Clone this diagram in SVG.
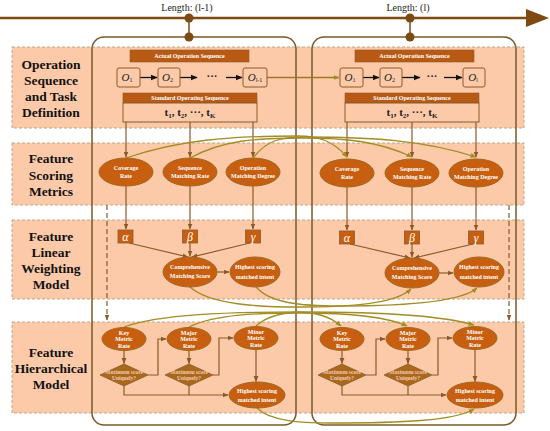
<svg xmlns="http://www.w3.org/2000/svg" width="550" height="431" viewBox="0 0 550 431">
<defs>
<style>
.band{fill:#FCCAA8;stroke:#B9AA8C;stroke-width:1;stroke-dasharray:3 2}
.frame{fill:none;stroke:#7A5A28;stroke-width:1.5}
.ln{fill:none;stroke:#8B5A2B;stroke-width:1.2}
.dash{fill:none;stroke:#8B5A2B;stroke-width:1.2;stroke-dasharray:5 3}
.cv{fill:none;stroke:#A38C24;stroke-width:1.3}
.bk{fill:none;stroke:#111;stroke-width:1.3}
.el{fill:#C85F10;stroke:#9C6A22;stroke-width:1}
.dm{fill:#A8691C;stroke:#8B5A2B;stroke-width:0.8}
.bx{fill:#C85F10;stroke:#8B5A2B;stroke-width:0.8}
.hdr{fill:#B95A14;stroke:#8B5A2B;stroke-width:0.6}
.ob{fill:#FCCAA8;stroke:#8B5A2B;stroke-width:1}
.lab{font-family:"Liberation Serif",serif;font-weight:bold;font-size:13.5px;fill:#111;text-anchor:middle}
.nt{font-family:"Liberation Serif",serif;font-weight:bold;font-size:6px;fill:#fff;text-anchor:middle}
.dt{font-family:"Liberation Serif",serif;font-weight:bold;font-size:5.5px;fill:#F8C8B0;text-anchor:middle}
.gr{font-family:"Liberation Serif",serif;font-style:italic;font-size:12px;fill:#fff;text-anchor:middle}
.ot{font-family:"Liberation Serif",serif;font-style:italic;font-size:11px;fill:#222;text-anchor:middle}
.tt{font-family:"Liberation Serif",serif;font-weight:bold;font-size:11px;fill:#222;text-anchor:middle}
.len{font-family:"Liberation Serif",serif;font-size:10px;fill:#222;text-anchor:middle}
</style>
<marker id="ab" viewBox="0 0 10 10" refX="9" refY="5" markerWidth="6" markerHeight="6" markerUnits="userSpaceOnUse" orient="auto"><path d="M0,1 L10,5 L0,9 z" fill="#8B5A2B"/></marker>
<marker id="ao" viewBox="0 0 10 10" refX="9" refY="5" markerWidth="6" markerHeight="6" markerUnits="userSpaceOnUse" orient="auto"><path d="M0,1 L10,5 L0,9 z" fill="#A38C24"/></marker>
<marker id="ak" viewBox="0 0 10 10" refX="9" refY="5" markerWidth="7" markerHeight="7" markerUnits="userSpaceOnUse" orient="auto"><path d="M0,1 L10,5 L0,9 z" fill="#111"/></marker>
</defs>

<g id="bands">
<rect class="band" x="12" y="47" width="512" height="81"/>
<rect class="band" x="12" y="143" width="512" height="62"/>
<rect class="band" x="12" y="220" width="512" height="79"/>
<rect class="band" x="12" y="322" width="512" height="91"/>
</g>

<g id="band-labels">
<text class="lab" x="51" y="69">Operation</text>
<text class="lab" x="51" y="85">Sequence</text>
<text class="lab" x="51" y="101">and Task</text>
<text class="lab" x="51" y="117">Definition</text>
<text class="lab" x="51" y="163">Feature</text>
<text class="lab" x="51" y="180">Scoring</text>
<text class="lab" x="51" y="196">Metrics</text>
<text class="lab" x="51" y="241">Feature</text>
<text class="lab" x="51" y="257">Linear</text>
<text class="lab" x="51" y="273">Weighting</text>
<text class="lab" x="51" y="289">Model</text>
<text class="lab" x="51" y="357">Feature</text>
<text class="lab" x="51" y="373">Hierarchical</text>
<text class="lab" x="51" y="389">Model</text>
</g>

<g id="timeline">
<line x1="0" y1="18" x2="530" y2="18" stroke="#7D4A12" stroke-width="2.5"/>
<polygon points="526,9 549,18 526,27" fill="#7D4A12"/>
<line x1="189" y1="18" x2="189" y2="37" stroke="#7D4A12" stroke-width="1.5"/>
<line x1="410" y1="18" x2="410" y2="37" stroke="#7D4A12" stroke-width="1.5"/>
<circle cx="189" cy="18" r="4.5" fill="#7D4A12"/>
<circle cx="410" cy="18" r="4.5" fill="#7D4A12"/>
<text class="len" x="187" y="11">Length: (l-1)</text>
<text class="len" x="408" y="11">Length: (l)</text>
</g>

<g id="frames">
<rect class="frame" x="92" y="37" width="204" height="388" rx="12"/>
<rect class="frame" x="312" y="37" width="204" height="388" rx="12"/>
<circle cx="189" cy="37" r="4.5" fill="#7D4A12"/>
<circle cx="410" cy="37" r="4.5" fill="#7D4A12"/>
</g>

<g id="connectors">
<!-- band 1 sequences -->
<path class="bk" d="M140,77.5 H157" marker-end="url(#ak)"/>
<path class="bk" d="M180,77.5 H197" marker-end="url(#ak)"/>
<path class="bk" d="M226,77.5 H242" marker-end="url(#ak)"/>
<path class="bk" d="M363,77.5 H379" marker-end="url(#ak)"/>
<path class="bk" d="M402,77.5 H420" marker-end="url(#ak)"/>
<path class="bk" d="M444,77.5 H462" marker-end="url(#ak)"/>
<path class="cv" style="stroke:#A07828" d="M267,77.5 H339" marker-end="url(#ao)"/>
<!-- band 1 to band 2 -->
<path class="ln" d="M126,122 V157" marker-end="url(#ab)"/>
<path class="ln" d="M190,122 V157" marker-end="url(#ab)"/>
<path class="ln" d="M253,122 V157" marker-end="url(#ab)"/>
<path class="ln" d="M347,122 V157" marker-end="url(#ab)"/>
<path class="ln" d="M412,122 V157" marker-end="url(#ab)"/>
<path class="ln" d="M476,122 V157" marker-end="url(#ab)"/>
<!-- band 2 curves -->
<path class="cv" d="M126,158 C178,140 230,136 298,136 C319,136 333,141 347,157" marker-end="url(#ao)"/>
<path class="cv" d="M190,158 C223,140 256,138 302,138 C345,138 378,141 412,157" marker-end="url(#ao)"/>
<path class="cv" d="M253,158 C267,140 281,137 305,137 C370,137 423,140 476,157" marker-end="url(#ao)"/>
<!-- band 2 to band 3 -->
<path class="ln" d="M126,186 V229" marker-end="url(#ab)"/>
<path class="ln" d="M190,186 V229" marker-end="url(#ab)"/>
<path class="ln" d="M253,186 V229" marker-end="url(#ab)"/>
<path class="ln" d="M347,187 V230" marker-end="url(#ab)"/>
<path class="ln" d="M412,187 V230" marker-end="url(#ab)"/>
<path class="ln" d="M476,187 V230" marker-end="url(#ab)"/>
<path class="ln" d="M129,243 L188,257" marker-end="url(#ab)"/>
<path class="ln" d="M190,243 V256" marker-end="url(#ab)"/>
<path class="ln" d="M250,243 L192,257" marker-end="url(#ab)"/>
<path class="ln" d="M217,272 H229" marker-end="url(#ab)"/>
<path class="ln" d="M350,244 L410,258" marker-end="url(#ab)"/>
<path class="ln" d="M412,244 V257" marker-end="url(#ab)"/>
<path class="ln" d="M473,244 L414,258" marker-end="url(#ab)"/>
<path class="ln" d="M439,273 H453" marker-end="url(#ab)"/>
<!-- dashed -->
<path class="dash" d="M107,205 V320" marker-end="url(#ab)"/>
<path class="dash" d="M509,205 V320" marker-end="url(#ab)"/>
<!-- band 3 curves -->
<path class="cv" d="M190,287 C210,305 260,307 300,307 C350,307 395,304 411,289" marker-end="url(#ao)"/>
<path class="cv" d="M256,287 C270,303 300,306 340,306 C400,306 460,303 477,288" marker-end="url(#ao)"/>
<!-- band 4 curves -->
<path class="cv" d="M124,327 C160,314 230,312 296,312 C315,312 330,316 341,326" marker-end="url(#ao)"/>
<path class="cv" d="M189,327 C215,314 260,313 300,313 C345,313 385,316 407,326" marker-end="url(#ao)"/>
<path class="cv" d="M256,326 C268,315 285,312 304,312 C375,312 440,315 474,325" marker-end="url(#ao)"/>
<path class="cv" d="M257,408 C270,421 300,423 330,423 C400,423 455,421 474,409" marker-end="url(#ao)"/>
<!-- band 4 left -->
<path class="ln" d="M124,350.5 V363.5" marker-end="url(#ab)"/>
<path class="ln" d="M148,375 H158 V339 H166" marker-end="url(#ab)"/>
<path class="ln" d="M189,350.5 V363.5" marker-end="url(#ab)"/>
<path class="ln" d="M213,375 H219 V338 H233" marker-end="url(#ab)"/>
<path class="ln" d="M256,349.5 V381.5" marker-end="url(#ab)"/>
<path class="ln" d="M124,386 V395 H228" marker-end="url(#ab)"/>
<path class="ln" d="M189,386 V395"/>
<!-- band 4 right -->
<path class="ln" d="M342,350.5 V363.5" marker-end="url(#ab)"/>
<path class="ln" d="M366,375 H376 V339 H385" marker-end="url(#ab)"/>
<path class="ln" d="M408,350.5 V363.5" marker-end="url(#ab)"/>
<path class="ln" d="M432,375 H438 V338 H452" marker-end="url(#ab)"/>
<path class="ln" d="M475,349.5 V381.5" marker-end="url(#ab)"/>
<path class="ln" d="M342,386 V395 H446" marker-end="url(#ab)"/>
<path class="ln" d="M408,386 V395"/>
</g>

<!-- band 1 nodes left -->
<g id="actual-left"><rect class="hdr" x="130" y="50" width="119" height="12"/><text class="nt" x="189.5" y="58.2">Actual Operation Sequence</text></g>
<g id="o1-left"><rect class="ob" x="117" y="68" width="23" height="19" rx="2"/><text class="ot" x="127" y="81">O<tspan font-size="6" font-style="normal" dy="1">1</tspan></text></g>
<g id="o2-left"><rect class="ob" x="158" y="68" width="22" height="19" rx="2"/><text class="ot" x="167.5" y="81">O<tspan font-size="6" font-style="normal" dy="1">2</tspan></text></g>
<g id="dots-left"><text class="tt" x="212" y="80">···</text></g>
<g id="ol1-left"><rect class="ob" x="243" y="68" width="24" height="19" rx="2"/><text class="ot" x="255" y="81">O<tspan font-size="6" font-style="normal" dy="1">l-1</tspan></text></g>
<g id="standard-left"><rect class="hdr" x="123" y="93" width="134" height="10"/><text class="nt" x="190" y="100.2">Standard Operating Sequence</text><rect class="ob" x="123" y="103" width="134" height="19"/><text class="tt" x="190" y="116">t<tspan font-size="7" dy="1.5">1</tspan><tspan dy="-1.5">,  t</tspan><tspan font-size="7" dy="1.5">2</tspan><tspan dy="-1.5">,  ···,  t</tspan><tspan font-size="7" dy="1.5">K</tspan></text></g>

<!-- band 1 nodes right -->
<g id="actual-right"><rect class="hdr" x="355" y="50" width="119" height="12"/><text class="nt" x="414.5" y="58.2">Actual Operation Sequence</text></g>
<g id="o1-right"><rect class="ob" x="340" y="68" width="23" height="19" rx="2"/><text class="ot" x="350" y="81">O<tspan font-size="6" font-style="normal" dy="1">1</tspan></text></g>
<g id="o2-right"><rect class="ob" x="380" y="68" width="22" height="19" rx="2"/><text class="ot" x="389.5" y="81">O<tspan font-size="6" font-style="normal" dy="1">2</tspan></text></g>
<g id="dots-right"><text class="tt" x="432" y="80">···</text></g>
<g id="ol-right"><rect class="ob" x="463" y="68" width="22" height="19" rx="2"/><text class="ot" x="473" y="81">O<tspan font-size="6" font-style="normal" dy="1">l</tspan></text></g>
<g id="standard-right"><rect class="hdr" x="345" y="93" width="134" height="10"/><text class="nt" x="412" y="100.2">Standard Operating Sequence</text><rect class="ob" x="345" y="103" width="134" height="19"/><text class="tt" x="412" y="116">t<tspan font-size="7" dy="1.5">1</tspan><tspan dy="-1.5">,  t</tspan><tspan font-size="7" dy="1.5">2</tspan><tspan dy="-1.5">,  ···,  t</tspan><tspan font-size="7" dy="1.5">K</tspan></text></g>

<!-- band 2 -->
<g id="coverage-left"><ellipse class="el" cx="126" cy="172" rx="27" ry="14"/><text class="nt" x="126" y="170">Coverage</text><text class="nt" x="126" y="178">Rate</text></g>
<g id="sequence-left"><ellipse class="el" cx="190" cy="172" rx="27" ry="14"/><text class="nt" x="190" y="170">Sequence</text><text class="nt" x="190" y="178">Matching Rate</text></g>
<g id="operation-left"><ellipse class="el" cx="253" cy="172" rx="27" ry="14"/><text class="nt" x="253" y="170">Operation</text><text class="nt" x="253" y="178">Matching Degree</text></g>
<g id="coverage-right"><ellipse class="el" cx="347" cy="173" rx="27" ry="14"/><text class="nt" x="347" y="171">Coverage</text><text class="nt" x="347" y="179">Rate</text></g>
<g id="sequence-right"><ellipse class="el" cx="412" cy="173" rx="27" ry="14"/><text class="nt" x="412" y="171">Sequence</text><text class="nt" x="412" y="179">Matching Rate</text></g>
<g id="operation-right"><ellipse class="el" cx="476" cy="173" rx="27" ry="14"/><text class="nt" x="476" y="171">Operation</text><text class="nt" x="476" y="179">Matching Degree</text></g>

<!-- band 3 -->
<g id="alpha-left"><rect class="bx" x="118" y="230" width="15" height="13"/><text class="gr" x="125.5" y="240.5">α</text></g>
<g id="beta-left"><rect class="bx" x="182.5" y="230" width="15" height="13"/><text class="gr" x="190" y="240.5">β</text></g>
<g id="gamma-left"><rect class="bx" x="245.5" y="230" width="15" height="13"/><text class="gr" x="253" y="240.5">γ</text></g>
<g id="comp-left"><ellipse class="el" cx="190" cy="272" rx="27" ry="15"/><text class="nt" x="190" y="269">Comprehensive</text><text class="nt" x="190" y="278">Matching Score</text></g>
<g id="highest-left"><ellipse class="el" cx="255" cy="272" rx="25" ry="15"/><text class="nt" x="255" y="269">Highest scoring</text><text class="nt" x="255" y="279">matched intent</text></g>
<g id="alpha-right"><rect class="bx" x="339.5" y="231" width="15" height="13"/><text class="gr" x="347" y="241.5">α</text></g>
<g id="beta-right"><rect class="bx" x="404.5" y="231" width="15" height="13"/><text class="gr" x="412" y="241.5">β</text></g>
<g id="gamma-right"><rect class="bx" x="468.5" y="231" width="15" height="13"/><text class="gr" x="476" y="241.5">γ</text></g>
<g id="comp-right"><ellipse class="el" cx="412" cy="273" rx="27" ry="15"/><text class="nt" x="412" y="270">Comprehensive</text><text class="nt" x="412" y="279">Matching Score</text></g>
<g id="highest-right"><ellipse class="el" cx="479" cy="272" rx="25" ry="15"/><text class="nt" x="479" y="269">Highest scoring</text><text class="nt" x="479" y="279">matched intent</text></g>

<!-- band 4 left -->
<g id="key-left"><ellipse class="el" cx="124" cy="339" rx="22" ry="11.5"/><text class="nt" x="124" y="334.5">Key</text><text class="nt" x="124" y="341">Metric</text><text class="nt" x="124" y="347.5">Rate</text></g>
<g id="major-left"><ellipse class="el" cx="189" cy="339" rx="22" ry="11.5"/><text class="nt" x="189" y="334.5">Major</text><text class="nt" x="189" y="341">Metric</text><text class="nt" x="189" y="347.5">Rate</text></g>
<g id="minor-left"><ellipse class="el" cx="256" cy="338" rx="22" ry="11.5"/><text class="nt" x="256" y="333.5">Minor</text><text class="nt" x="256" y="340">Metric</text><text class="nt" x="256" y="346.5">Rate</text></g>
<g id="dec1-left"><polygon class="dm" points="124,364 148,375 124,386 100,375"/><text class="dt" x="124" y="373.5">Maximum score</text><text class="dt" x="124" y="380">Uniquely?</text></g>
<g id="dec2-left"><polygon class="dm" points="189,364 213,375 189,386 165,375"/><text class="dt" x="189" y="373.5">Maximum score</text><text class="dt" x="189" y="380">Uniquely?</text></g>
<g id="final-left"><ellipse class="el" cx="257" cy="395" rx="28" ry="13"/><text class="nt" x="257" y="392.5">Highest scoring</text><text class="nt" x="257" y="401.5">matched intent</text></g>

<!-- band 4 right -->
<g id="key-right"><ellipse class="el" cx="342" cy="339" rx="22" ry="11.5"/><text class="nt" x="342" y="334.5">Key</text><text class="nt" x="342" y="341">Metric</text><text class="nt" x="342" y="347.5">Rate</text></g>
<g id="major-right"><ellipse class="el" cx="408" cy="339" rx="22" ry="11.5"/><text class="nt" x="408" y="334.5">Major</text><text class="nt" x="408" y="341">Metric</text><text class="nt" x="408" y="347.5">Rate</text></g>
<g id="minor-right"><ellipse class="el" cx="475" cy="338" rx="22" ry="11.5"/><text class="nt" x="475" y="333.5">Minor</text><text class="nt" x="475" y="340">Metric</text><text class="nt" x="475" y="346.5">Rate</text></g>
<g id="dec1-right"><polygon class="dm" points="342,364 366,375 342,386 318,375"/><text class="dt" x="342" y="373.5">Maximum score</text><text class="dt" x="342" y="380">Uniquely?</text></g>
<g id="dec2-right"><polygon class="dm" points="408,364 432,375 408,386 384,375"/><text class="dt" x="408" y="373.5">Maximum score</text><text class="dt" x="408" y="380">Uniquely?</text></g>
<g id="final-right"><ellipse class="el" cx="475" cy="395" rx="28" ry="13"/><text class="nt" x="475" y="392.5">Highest scoring</text><text class="nt" x="475" y="401.5">matched intent</text></g>
</svg>
